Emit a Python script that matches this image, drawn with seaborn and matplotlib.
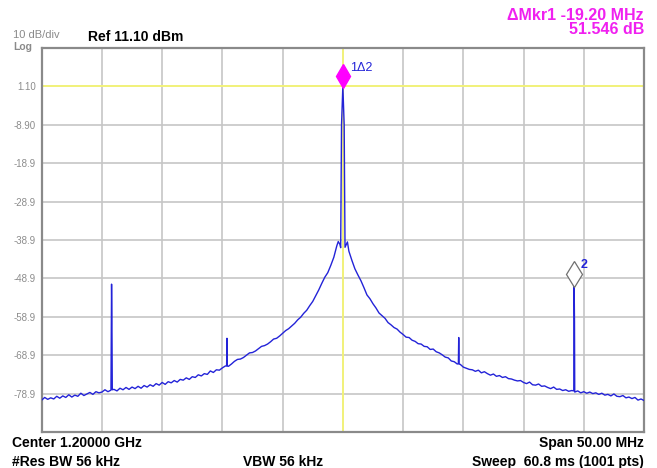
import numpy as np
import pandas as pd
import seaborn as sns
import matplotlib.pyplot as plt
from matplotlib.transforms import offset_copy

# sweep: centre 1.2 GHz, span 50 MHz, trace read every 0.25 MHz
center_mhz = 1200.0
span_mhz = 50.0
ref_dbm = 11.10
db_per_div = 10

# trace levels (dBm), one row per MHz: n.00, n.25, n.50, n.75
trace_dbm = [
    -80.6, -79.9, -80.4, -80.0,   # 1175
    -80.3, -79.6, -80.1, -79.5,
    -79.9, -79.2, -79.8, -79.3,
    -79.6, -78.8, -79.4, -79.0,
    -78.6, -79.1, -78.4, -78.7,
    -78.5, -77.9, -78.4, -78.0,   # 1180
    -77.8, -78.2, -77.5, -77.9,
    -77.3, -77.8, -77.2, -77.6,
    -77.0, -77.5, -76.8, -77.2,
    -76.6, -77.0, -76.3, -76.7,
    -76.0, -76.5, -75.8, -76.1,   # 1185
    -75.5, -75.9, -75.2, -75.4,
    -74.8, -75.2, -74.5, -74.7,
    -74.0, -74.3, -73.7, -73.9,
    -73.0, -73.4, -72.7, -72.8,
    -72.2, -71.7, -71.8, -71.2,   # 1190
    -70.5, -70.0, -69.9, -69.5,
    -68.9, -68.3, -68.2, -67.8,
    -67.2, -66.6, -66.4, -66.0,
    -65.4, -64.7, -64.5, -63.9,
    -63.2, -62.5, -62.0, -61.3,   # 1195
    -60.6, -59.7, -59.0, -58.0,
    -57.2, -56.0, -54.9, -53.4,
    -51.9, -50.2, -48.6, -47.4,
    -45.5, -43.4, -40.4, -40.0,
    1.2, -40.3, -41.8, -44.2,     # 1200
    -46.4, -48.0, -49.5, -51.3,
    -53.2, -54.2, -55.5, -56.6,
    -57.9, -58.6, -59.3, -60.4,
    -61.0, -61.7, -62.1, -62.9,
    -63.5, -64.2, -64.3, -65.0,   # 1205
    -65.3, -65.9, -66.0, -66.6,
    -66.7, -67.4, -67.3, -68.0,
    -68.3, -68.8, -69.4, -69.6,
    -70.4, -70.6, -71.2, -71.3,
    -72.0, -72.3, -72.6, -72.7,   # 1210
    -73.1, -72.8, -73.5, -73.2,
    -73.7, -74.1, -73.8, -74.4,
    -74.2, -74.7, -74.5, -75.0,
    -75.1, -75.4, -75.6, -75.5,
    -76.0, -76.3, -75.9, -76.6,   # 1215
    -76.7, -76.4, -77.0, -76.9,
    -77.3, -77.6, -77.2, -77.8,
    -77.7, -78.1, -77.9, -78.3,
    -78.1, -78.5, -78.2, -78.7,
    -78.4, -78.8, -78.5, -78.9,   # 1220
    -78.7, -79.1, -78.8, -79.3,
    -79.1, -79.5, -79.0, -79.6,
    -79.7, -79.4, -80.0, -79.8,
    -80.2, -79.9, -80.6, -80.3,
    -80.7,                        # 1225
]

# extra points around the carrier (double hump + spike)
carrier_mhz = [1199.62, 1199.82, 1199.89, 1200.11, 1200.18, 1200.38]
carrier_dbm = [-39.3, -40.9, -8.9, -8.9, -40.8, -39.4]

# spurs
spur_mhz = [1180.80, 1180.83, 1180.86, 1190.35, 1190.38, 1190.41,
            1209.59, 1209.62, 1209.65, 1219.17, 1219.20, 1219.23]
spur_dbm = [-50.4, -60.0, -77.9, -71.7, -64.5, -71.7,
            -71.1, -64.3, -71.2, -78.2, -50.35, -60.2]

# markers
mkr1_mhz, mkr1_dbm = 1200.0, 1.2
mkr2_mhz, mkr2_dbm = 1219.2, -50.35
display_line_dbm = 1.10

ytick_labels = ['', '1.10', '-8.90', '-18.9', '-28.9', '-38.9',
                '-48.9', '-58.9', '-68.9', '-78.9', '']

grid_mhz = np.linspace(center_mhz - span_mhz / 2, center_mhz + span_mhz / 2, len(trace_dbm))
df = pd.DataFrame({
    'mhz': np.concatenate([grid_mhz, carrier_mhz, spur_mhz]),
    'dbm': np.concatenate([trace_dbm, carrier_dbm, spur_dbm]),
}).sort_values('mhz')

sns.set_theme(style='white')
plt.rcParams['font.family'] = ['Liberation Sans', 'DejaVu Sans']

W, H = 657, 468
fig = plt.figure(figsize=(W / 100, H / 100), dpi=100)
ax = fig.add_axes([41.7 / W, 1 - 432 / H, 602.3 / W, 384 / H])

trace_color = '#2323d8'
ax.axhline(display_line_dbm, color='#f2f27a', lw=1.4, zorder=2)
ax.axvline(center_mhz, color='#f2f27a', lw=1.4, zorder=2)
sns.lineplot(data=df, x='mhz', y='dbm', color=trace_color, lw=1.0,
             estimator=None, sort=False, ax=ax, zorder=3)

bottom = ref_dbm - 10 * db_per_div
ax.set_xlim(center_mhz - span_mhz / 2, center_mhz + span_mhz / 2)
ax.set_ylim(bottom, ref_dbm)
ax.set_xticks(np.linspace(center_mhz - span_mhz / 2, center_mhz + span_mhz / 2, 11))
ax.set_xticklabels([])
ax.set_yticks([ref_dbm - db_per_div * k for k in range(11)])
ax.set_yticklabels(ytick_labels)
ax.tick_params(axis='both', length=0, pad=4)
ax.tick_params(axis='y', labelsize=7, labelcolor='#8c8c8c')
ax.set_xlabel('')
ax.set_ylabel('')
ax.grid(True, color='#c6c6c6', lw=1.2, zorder=1)
ax.set_axisbelow(True)
for s in ax.spines.values():
    s.set_color('#8a8a8a')
    s.set_linewidth(1.6)

# marker diamonds sit a little above the trace point
up = offset_copy(ax.transData, fig=fig, x=0, y=7, units='points')
ax.plot([mkr1_mhz], [mkr1_dbm], marker='d', ms=12, color='#ff00ff',
        mec='#ff00ff', transform=up, zorder=5, clip_on=False)
ax.plot([mkr2_mhz], [mkr2_dbm], marker='d', ms=13, color='white',
        mec='#707070', mew=0.9, transform=up, zorder=5, clip_on=False)
ax.annotate('1\u03942', (mkr1_mhz, mkr1_dbm), xytext=(5, 13), textcoords='offset points',
            color='#2323d8', fontsize=9, va='center', ha='left')
ax.annotate('2', (mkr2_mhz, mkr2_dbm), xytext=(5, 13.5), textcoords='offset points',
            color='#2323d8', fontsize=9, fontweight='bold', va='center', ha='left')

def px(x, y, s, **kw):
    fig.text(x / W, 1 - y / H, s, **kw)

px(13, 37.5, '10 dB/div', fontsize=8, color='#8a8a8a', va='baseline')
px(13, 49.5, 'Log', fontsize=7.5, color='#8a8a8a', fontweight='bold', va='baseline')
px(88, 41, 'Ref 11.10 dBm', fontsize=10, fontweight='bold', color='black', va='baseline')
mag = '#f020f0'
px(644, 20, '\u0394Mkr1 -19.20 MHz', fontsize=11.5, fontweight='bold', color=mag, ha='right', va='baseline')
px(644, 33.5, '51.546 dB', fontsize=11.5, fontweight='bold', color=mag, ha='right', va='baseline')

bold = dict(fontsize=10, fontweight='bold', color='black', va='baseline')
px(12, 447, 'Center 1.20000 GHz', **bold)
px(12, 466, '#Res BW 56 kHz', **bold)
px(243, 466, 'VBW 56 kHz', **bold)
px(644, 447, 'Span 50.00 MHz', ha='right', **bold)
px(644, 466, 'Sweep  60.8 ms (1001 pts)', ha='right', **bold)

fig.savefig('out.png', dpi=100, facecolor='white')
